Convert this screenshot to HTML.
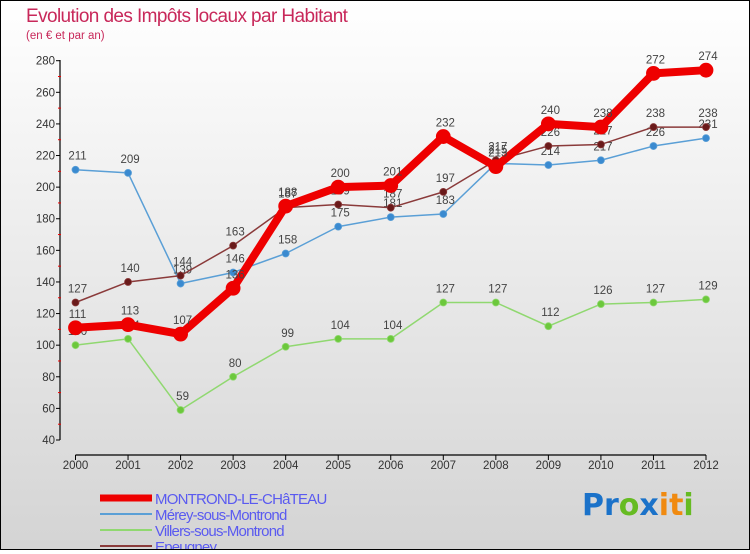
<!DOCTYPE html>
<html><head><meta charset="utf-8"><style>
html,body{margin:0;padding:0}
body{width:750px;height:550px;overflow:hidden;font-family:"Liberation Sans",sans-serif}
#wrap{position:relative;width:748px;height:548px;border:1px solid #000;background:linear-gradient(#ffffff,#d4d4d4)}
</style></head><body>
<div id="wrap">
<svg id="chart" width="748" height="548" viewBox="1 1 748 548">
<text x="26" y="22" font-size="19" fill="#c8285a" style="letter-spacing:-0.6px">Evolution des Impôts locaux par Habitant</text>
<text x="26" y="39" font-size="11.5" fill="#c8285a">(en € et par an)</text>
<g id="axes"></g>
<g id="series"></g>
<g id="legend"></g>
<text x="582" y="515" font-size="30" font-weight="bold" font-family="'DejaVu Sans',sans-serif"><tspan fill="#1b72c9">Pr</tspan><tspan fill="#66bb22">o</tspan><tspan fill="#1b72c9">x</tspan><tspan fill="#f08a10">it</tspan><tspan fill="#66bb22">i</tspan></text>
</svg>
</div>
<script>
const years = [2000,2001,2002,2003,2004,2005,2006,2007,2008,2009,2010,2011,2012];
const montrond = [111,113,107,136,188,200,201,232,213,240,238,272,274];
const merey = [211,209,139,146,158,175,181,183,215,214,217,226,231];
const villers = [100,104,59,80,99,104,104,127,127,112,126,127,129];
const epeugney = [127,140,144,163,187,189,187,197,217,226,227,238,238];
const yTicks = [40,60,80,100,120,140,160,180,200,220,240,260,280];
const seriesNames = ["MONTROND-LE-CHâTEAU","Mérey-sous-Montrond","Villers-sous-Montrond","Epeugney"];

const NS="http://www.w3.org/2000/svg";
function x(i){return 75.5+i*(706-75.5)/(years.length-1);}
function y(v){return 440-(v-40)*(440-60.7)/240;}
function mk(tag,attrs,parent){const e=document.createElementNS(NS,tag);for(const k in attrs)e.setAttribute(k,attrs[k]);parent.appendChild(e);return e;}
const axes=document.getElementById('axes');
const ser=document.getElementById('series');
const leg=document.getElementById('legend');

let yl=mk('line',{x1:60,y1:60,x2:60,y2:440,stroke:'#000','stroke-width':1.2},axes);


let xl=mk('line',{x1:75.5,y1:537/1,x2:706,y2:537},axes);
xl.setAttribute('x1',75.5);xl.setAttribute('y1',537.5-(537.5-537.5));
xl.setAttribute('y1',537);
xl.setAttribute('y1',0);xl.setAttribute('y2',0);
xl.setAttribute('x1',75.5);xl.setAttribute('x2',706);
xl.setAttribute('y1',537);
xl.setAttribute('y2',537);
xl.setAttribute('transform','translate(0,-82)');
xl.setAttribute('stroke','#000');
xl.setAttribute('stroke-width','1.2');


yTicks.forEach((t,i)=>{
  mk('line',{x1:56,x2:60,y1:y(t),y2:y(t),stroke:'#000'},axes);
  if(i<yTicks.length-1) mk('line',{x1:58,x2:61,y1:y(t+10),y2:y(t+10),stroke:'#e00'},axes);
  const tx=mk('text',{x:55,y:y(t)+4,'font-size':11.5,fill:'#333','text-anchor':'end'},axes);
  tx.textContent=t;
  
  
});
years.forEach((yr,i)=>{
  mk('line',{x1:x(i),x2:x(i),y1:455,y2:460,stroke:'#000'},axes);
  const tx=mk('text',{x:x(i),y:469,'font-size':11.5,fill:'#333','text-anchor':'middle'},axes);
  tx.textContent=yr;
  
  
});

function draw(data,color,w,r,name,dot){
  const g=mk('g',{},ser);
  
  
  mk('polyline',{points:data.map((v,i)=>x(i)+','+y(v)).join(' '),fill:'none',stroke:color,'stroke-width':w,'stroke-linejoin':'round'},g);
  data.forEach((v,i)=>{
    const c=mk('circle',{cx:x(i),cy:y(v),r:r,fill:dot,stroke:color,'stroke-width':0.8},g);
    
    
    const t=mk('text',{x:x(i)+2,y:y(v)-10,'font-size':11.5,fill:'#444','text-anchor':'middle'},g);
    t.textContent=v;
    
    
  });
}
draw(villers,'#90d870',1.5,3.5,'series-villers','#6cc83c');
draw(merey,'#5a9fd6',1.5,3.5,'series-merey','#3a8ad0');
draw(epeugney,'#8a3a3a',1.5,3.5,'series-epeugney','#6a1a1a');
draw(montrond,'#ee0000',8,7,'series-montrond','#ee0000');

const legCols=['#ee0000','#5a9fd6','#90d870','#8a3a3a'];
const legW=[7,2,2,2];
seriesNames.forEach((n,i)=>{
  const yy=498+i*16;
  const l=mk('line',{x1:100,x2:152,y1:yy,y2:yy,stroke:legCols[i],'stroke-width':legW[i]},leg);
  
  
  const t=mk('text',{x:155,y:yy+6,'font-size':15,fill:'#5a5af0'},leg);
  t.setAttribute('style','letter-spacing:-0.8px');
  t.textContent=n;
  
  
});
</script>
</body></html>
